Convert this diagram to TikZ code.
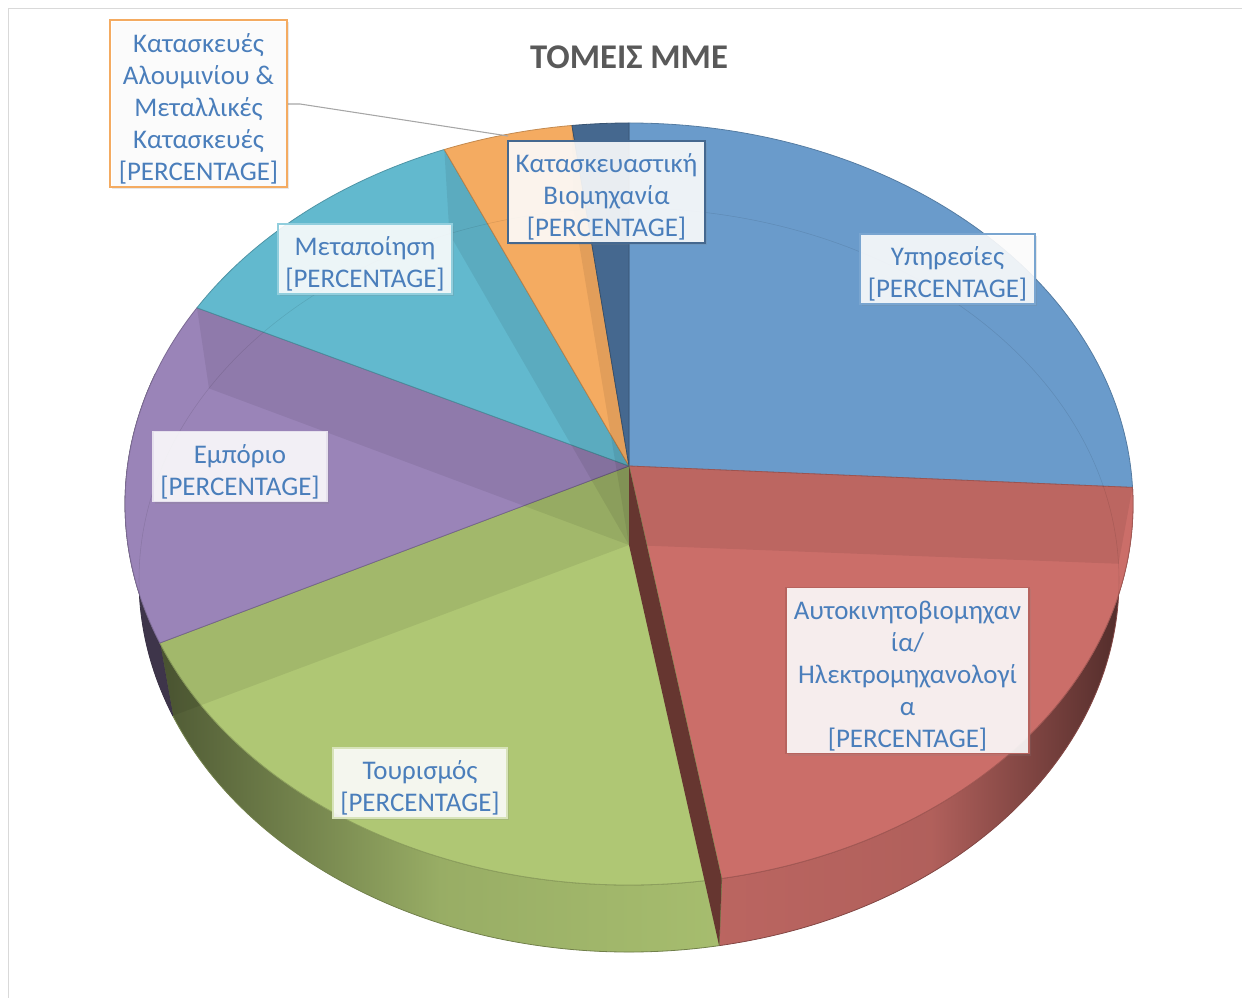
\documentclass[tikz,border=0pt]{standalone}
\usepackage{fontspec}
\setmainfont{Carlito}
\usepackage{xcolor}
\usepackage{tikz}
\usetikzlibrary{calc,shadows}

\definecolor{svcblue}{HTML}{6A9BCB}
\definecolor{autored}{HTML}{CB6E69}
\definecolor{tourgreen}{HTML}{AFC774}
\definecolor{tradepurple}{HTML}{9A84B8}
\definecolor{manucyan}{HTML}{62B9CE}
\definecolor{aluorange}{HTML}{F4AB61}
\definecolor{indnavy}{HTML}{45688F}
\definecolor{lbltext}{HTML}{4A7EBB}
\definecolor{titlegrey}{HTML}{595959}
\definecolor{wallbrown}{HTML}{663630}

\newcommand{\lblstrut}{\rule{0pt}{22pt}}

\tikzset{
  lbl/.style={fill=white, fill opacity=0.88, text opacity=1, line width=1.2pt,
    text=lbltext, align=center, inner sep=2pt,
    font=\fontsize{20.2}{24}\selectfont,
    drop shadow={opacity=0.18, shadow xshift=1.5pt, shadow yshift=-1.5pt}},
  wedge/.style={line width=0.6pt, line join=round},
}

\begin{document}
\begin{tikzpicture}[x=0.75pt,y=0.75pt,yscale=-1,xscale=1]
	\useasboundingbox (0,0) rectangle (1242,998);
	%chart area frame
	\draw[black!15] (8,998) -- (8,8) -- (1242,8);
	
	%apex of top and bottom face, centres of the two rims
	\coordinate (ptop) at (629,466);
	\coordinate (pbot) at (629,545);
	\coordinate (etop) at (629,504);
	\coordinate (ebot) at (629,580);
	
	%Outer wall, front part
	\draw[wedge, draw=autored!70!black, left color=autored!92!black, right color=autored!35!black, middle color=autored!87!black]
	  ($(etop)+(-2.5:504 and 381)$) arc[start angle=-2.5, end angle=79.4, x radius=504, y radius=381]
	  -- ($(ebot)+(79.4:490 and 372)$) arc[start angle=79.4, end angle=-2.5, x radius=490, y radius=372] -- cycle;
	\draw[wedge, draw=tourgreen!70!black, left color=tourgreen!45!black, right color=tourgreen!95!black, middle color=tourgreen!87!black]
	  ($(etop)+(79.4:504 and 381)$) arc[start angle=79.4, end angle=158.6, x radius=504, y radius=381]
	  -- ($(ebot)+(158.6:490 and 372)$) arc[start angle=158.6, end angle=79.4, x radius=490, y radius=372] -- cycle;
	\draw[wedge, draw=tradepurple!40!black, fill=tradepurple!40!black]
	  ($(etop)+(158.6:504 and 381)$) arc[start angle=158.6, end angle=200, x radius=504, y radius=381]
	  -- ($(ebot)+(200:490 and 372)$) arc[start angle=200, end angle=158.6, x radius=490, y radius=372] -- cycle;
	
	%Top face
	\foreach \col/\a/\b in {svcblue/270/357.5, autored/-2.5/79.4, tourgreen/79.4/158.6, tradepurple/158.6/211, manucyan/211/248.5, aluorange/248.5/263.5, indnavy/263.5/270}
	  \draw[wedge, fill=\col, draw=\col!80!black] (ptop) -- ($(etop)+(\a:504 and 381)$) arc[start angle=\a, end angle=\b, x radius=504, y radius=381] -- cycle;
	
	%Inner walls seen through the top
	\foreach \t in {-2.5,158.6,211,248.5,263.5}
	  \fill[black, fill opacity=0.07] (ptop) -- ($(etop)+(\t:504 and 381)$) -- ($(ebot)+(\t:490 and 372)$) -- (pbot) -- cycle;
	\fill[wallbrown] (ptop) -- ($(etop)+(79.4:504 and 381)$) -- ($(ebot)+(79.4:490 and 372)$) -- (pbot) -- cycle;
	\draw[black, opacity=0.1] (ebot) ellipse [x radius=490, y radius=372];
	
	%Title
	\node[font=\bfseries\fontsize{26}{30}\selectfont, text=titlegrey] (title) at (629,57) {ΤΟΜΕΙΣ ΜΜΕ};
	
	%Leader line
	\coordinate (aluend) at (508,136);
	\draw[black!35, line width=0.8pt] (287,104) -- (300,104) -- (aluend);
	
	% Text Node
	\node[lbl, draw=aluorange, minimum width=133pt, minimum height=125pt] (alu) at (198.5,103.5) {\lblstrut Κατασκευές\\Αλουμινίου \&\\Μεταλλικές\\Κατασκευές\\{[PERCENTAGE]}};
	% Text Node
	\node[lbl, draw=indnavy, minimum width=148pt, minimum height=76.5pt] (ind) at (606.5,192) {\lblstrut Κατασκευαστική\\Βιομηχανία\\{[PERCENTAGE]}};
	% Text Node
	\node[lbl, draw=svcblue!90!white, minimum width=131pt, minimum height=52.5pt] (svc) at (947.5,269) {\lblstrut Υπηρεσίες\\{[PERCENTAGE]}};
	% Text Node
	\node[lbl, draw=manucyan!70!white, minimum width=130.5pt, minimum height=52.5pt] (manu) at (365,259) {\lblstrut Μεταποίηση\\{[PERCENTAGE]}};
	% Text Node
	\node[lbl, draw=tradepurple!25!white, minimum width=130.5pt, minimum height=52pt] (trade) at (240,466.5) {\lblstrut Εμπόριο\\{[PERCENTAGE]}};
	% Text Node
	\node[lbl, draw=autored!90!black, minimum width=182pt, minimum height=124pt] (auto) at (907.5,670.5) {\lblstrut Αυτοκινητοβιομηχαν\\ία/\\Ηλεκτρομηχανολογί\\α\\{[PERCENTAGE]}};
	% Text Node
	\node[lbl, draw=tourgreen!50!white, minimum width=130.5pt, minimum height=52.5pt] (tour) at (420,783) {\lblstrut Τουρισμός\\{[PERCENTAGE]}};
\end{tikzpicture}
\end{document}
